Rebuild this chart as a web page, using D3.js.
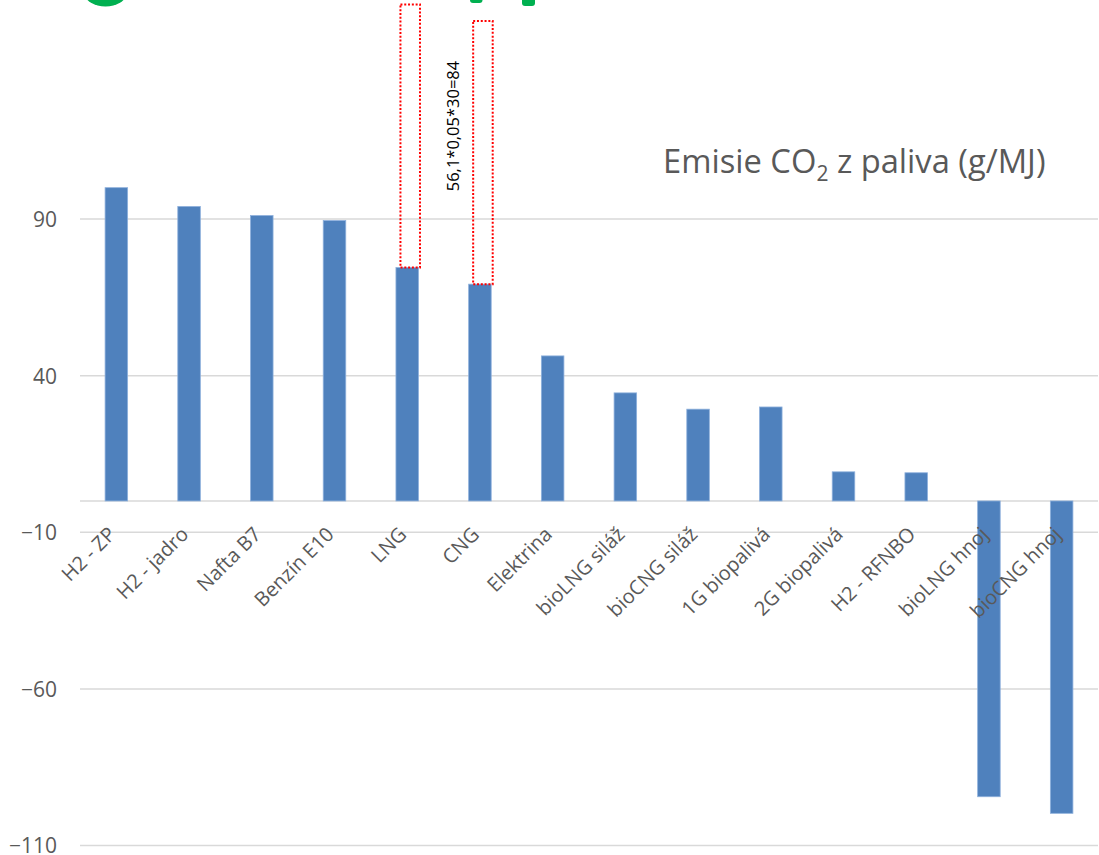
<!DOCTYPE html>
<html>
<head>
<meta charset="utf-8">
<script src="https://cdn.jsdelivr.net/npm/d3@7"></script>
<style>
  html, body { margin: 0; padding: 0; background: #fff; }
  svg { display: block; font-family: "Open Sans", sans-serif; }
</style>
</head>
<body>
<svg id="chart" width="1099" height="855"></svg>
<script>
// Fuel CO2 emissions, g/MJ
const categories = [
  "H2 - ZP", "H2 - jadro", "Nafta B7", "Benzín E10", "LNG", "CNG", "Elektrina",
  "bioLNG siláž", "bioCNG siláž", "1G biopalivá", "2G biopalivá", "H2 - RFNBO",
  "bioLNG hnoj", "bioCNG hnoj"
];
const emissions = [100, 94, 91.1, 89.5, 74.5, 69.2, 46.3, 34.5, 29.3, 30, 9.3, 9, -94.4, -99.7];
const yTicks = [90, 40, -10, -60, -110];

// Extra methane-slip contribution shown as dotted boxes on top of the gas bars
const slipFuels = ["LNG", "CNG"];
const slipExtra = 84;
const slipLabel = "56,1*0,05*30=84";

const svg = d3.select("#chart");
const plotLeft = 80, plotRight = 1098, plotTop = 219, plotBottom = 845.6;

const x = d3.scaleBand().domain(categories).range([plotLeft, plotRight])
  .paddingInner(0.69).paddingOuter(0.345);
const y = d3.scaleLinear().domain([-110, 90]).range([plotBottom, plotTop]);

// Decorative fragments of a green heading cut off at the top edge
const g0 = svg.append("g").attr("fill", "#00B050");
g0.append("ellipse").attr("cx", 105.5).attr("cy", -6).attr("rx", 20.5).attr("ry", 12.5);
g0.append("rect").attr("x", 470).attr("y", -6).attr("width", 12.5).attr("height", 9).attr("rx", 3);
g0.append("rect").attr("x", 522).attr("y", -6).attr("width", 13).attr("height", 12).attr("rx", 3);

// Gridlines
const grid = svg.append("g");
grid.selectAll("line").data(yTicks.concat([0])).join("line")
  .attr("x1", plotLeft).attr("x2", plotRight)
  .attr("y1", d => y(d)).attr("y2", d => y(d))
  .attr("stroke", "#d9d9d9").attr("stroke-width", 1.5);

// Y axis labels
const yAxis = d3.axisLeft(y).tickValues(yTicks).tickSize(0).tickPadding(0);
const ya = svg.append("g").attr("transform", `translate(57,0)`).call(yAxis);
ya.select(".domain").remove();
ya.selectAll("text").attr("font-size", 21).attr("fill", "#595959")
  .attr("font-family", "Open Sans, sans-serif").attr("dy", "0.35em");

// Bars
svg.append("g").selectAll("rect").data(categories).join("rect")
  .attr("x", d => x(d))
  .attr("width", x.bandwidth())
  .attr("y", (d, i) => y(Math.max(0, emissions[i])))
  .attr("height", (d, i) => Math.abs(y(emissions[i]) - y(0)))
  .attr("fill", "#4F81BD")
  .attr("stroke", "#8eb0dc").attr("stroke-width", 0.8);

// Dotted boxes for the slip contribution
svg.append("g").selectAll("rect").data(slipFuels).join("rect")
  .attr("x", d => x(d) + 4.5)
  .attr("width", x.bandwidth() - 3)
  .attr("y", d => y(emissions[categories.indexOf(d)] + slipExtra))
  .attr("height", d => y(emissions[categories.indexOf(d)]) - y(emissions[categories.indexOf(d)] + slipExtra))
  .attr("fill", "none").attr("stroke", "#ff0000").attr("stroke-width", 2)
  .attr("stroke-dasharray", "2,1.8");

// Rotated formula label between the boxes
const lx = (x("LNG") + x("CNG") + x.bandwidth()) / 2 + 10;
svg.append("text")
  .attr("transform", `translate(${lx},126) rotate(-90)`)
  .attr("text-anchor", "middle").attr("dy", "0.35em")
  .attr("font-size", 16.5).attr("fill", "#000")
  .text(slipLabel);

// Category labels, rotated
svg.append("g").selectAll("text").data(categories).join("text")
  .attr("transform", d => `translate(${x(d) + x.bandwidth() / 2 - 10},525) rotate(-45)`)
  .attr("text-anchor", "end").attr("dy", "0.75em")
  .attr("font-size", 20).attr("fill", "#595959")
  .text(d => d);

// Series title
const t = svg.append("text").attr("x", 663).attr("y", 173)
  .attr("font-size", 32.7).attr("fill", "#595959");
t.append("tspan").text("Emisie CO");
t.append("tspan").attr("font-size", 21).attr("dy", 8).text("2");
t.append("tspan").attr("dy", -8).text(" z paliva (g/MJ)");
</script>
</body>
</html>
